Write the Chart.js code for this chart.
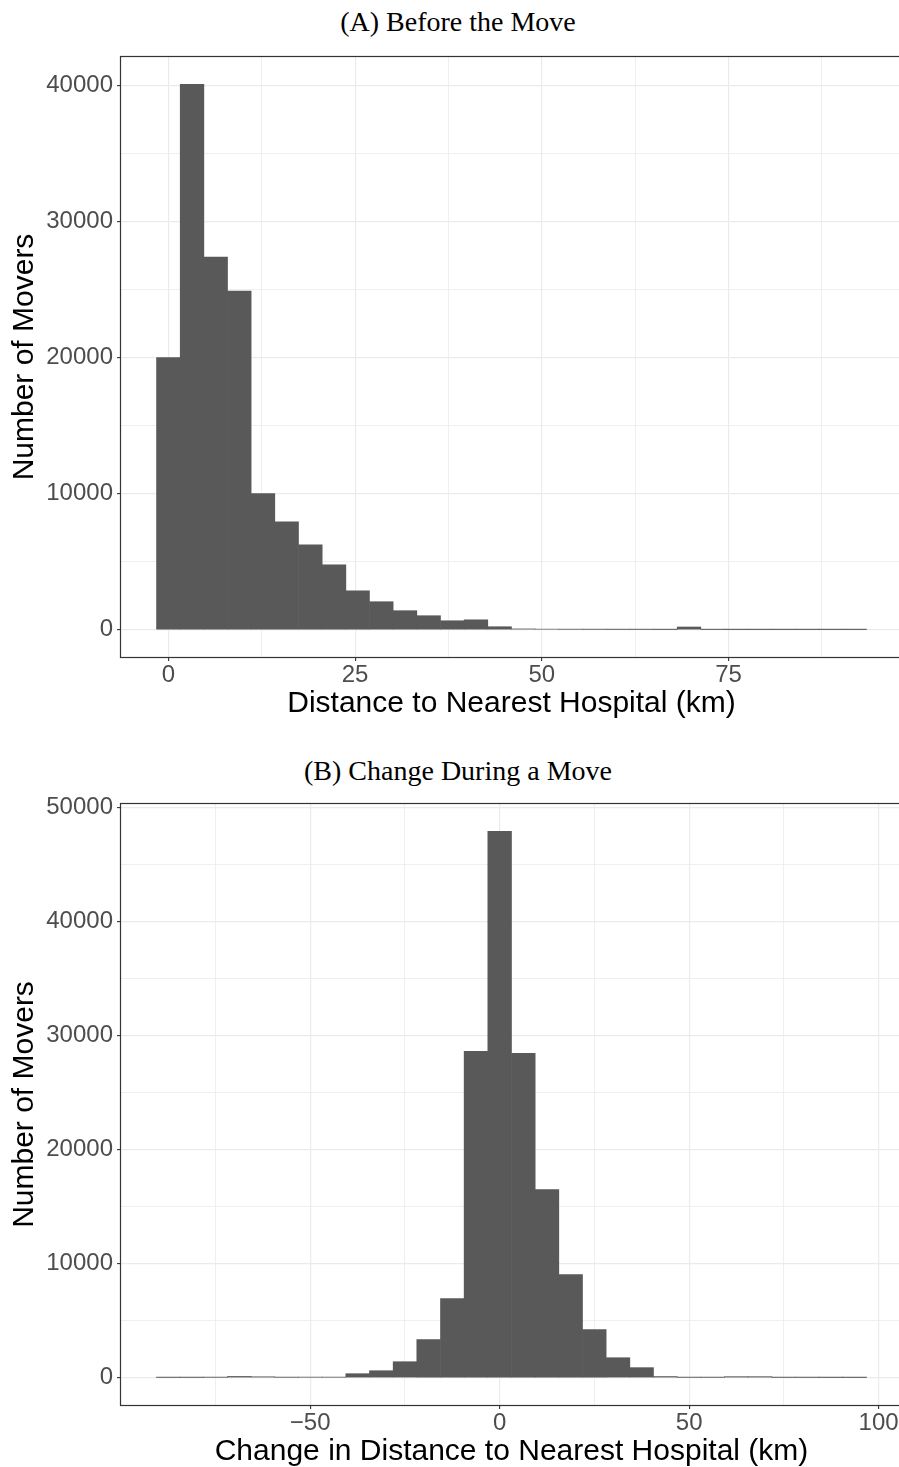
<!DOCTYPE html>
<html>
<head>
<meta charset="utf-8">
<title>Distance to Nearest Hospital</title>
<script src="https://cdn.jsdelivr.net/npm/chart.js@4.4.1/dist/chart.umd.min.js"></script>
<style>
    html, body { margin: 0; padding: 0; background: #ffffff; }
    body { width: 899px; height: 1467px; overflow: hidden; position: relative; }
    .panel-title {
        position: absolute; left: 0; width: 916px; text-align: center;
        font-family: 'Liberation Serif', 'DejaVu Serif', serif;
        font-size: 28px; line-height: 28px; color: #000;
    }
    .panel { position: absolute; left: 0; width: 902px; }
</style>
</head>
<body>
<div class="panel-title" style="top: 8px;">(A) Before the Move</div>
<div class="panel" style="top: 0; height: 730px;"><canvas id="chartA"></canvas></div>
<div class="panel-title" style="top: 757px;">(B) Change During a Move</div>
<div class="panel" style="top: 745px; height: 740px;"><canvas id="chartB"></canvas></div>

<script>
/* ------------------------------------------------------------
   Data (30 bins per histogram)
   ------------------------------------------------------------ */

// (A) distance before the move: bin centres (km) and counts
const binsBefore = [
    0, 3.17, 6.34, 9.50, 12.67, 15.84, 19.01, 22.18, 25.34, 28.51,
    31.68, 34.85, 38.02, 41.18, 44.35, 47.52, 50.69, 53.86, 57.02, 60.19,
    63.36, 66.53, 69.70, 72.86, 76.03, 79.20, 82.37, 85.54, 88.70, 91.87
];
const moversBefore = [
    20000, 40100, 27390, 24890, 10000, 7930, 6240, 4770, 2860, 2060,
    1400, 1030, 660, 730, 220, 60, 40, 30, 25, 20,
    20, 15, 200, 15, 10, 10, 10, 10, 10, 10
];

// (B) change during the move: bin centres (km) and counts
const binsChange = [
    -87.43, -81.19, -74.94, -68.70, -62.45, -56.21, -49.96, -43.72, -37.47, -31.23,
    -24.98, -18.74, -12.49, -6.25, 0, 6.25, 12.49, 18.74, 24.98, 31.23,
    37.47, 43.72, 49.96, 56.21, 62.45, 68.70, 74.94, 81.19, 87.43, 93.68
];
const moversChange = [
    20, 20, 30, 110, 80, 30, 40, 40, 350, 610,
    1400, 3330, 6930, 28600, 47890, 28420, 16490, 9030, 4210, 1750,
    880, 100, 25, 25, 90, 90, 20, 20, 15, 15
];

// axis breaks: major ones get a label, the rest are minor grid lines
const xBreaksBefore = [0, 12.5, 25, 37.5, 50, 62.5, 75, 87.5];
const xLabelsBefore = [0, 25, 50, 75];
const xBreaksChange = [-75, -50, -25, 0, 25, 50, 75, 100];
const xLabelsChange = [-50, 0, 50, 100];
const yBreaksBefore = [0, 5000, 10000, 15000, 20000, 25000, 30000, 35000, 40000];
const yLabelsBefore = [0, 10000, 20000, 30000, 40000];
const yBreaksChange = [0, 5000, 10000, 15000, 20000, 25000, 30000, 35000, 40000, 45000, 50000];
const yLabelsChange = [0, 10000, 20000, 30000, 40000, 50000];

/* ------------------------------------------------------------
   Theme (ggplot2 theme_bw look)
   ------------------------------------------------------------ */
const theme = {
    sans: "'Liberation Sans', Arial, sans-serif",
    barFill: '#595959',
    gridColor: '#EBEBEB',
    axisColor: '#333333',
    tickText: '#4D4D4D',
    titleText: '#000000'
};

/**
 * Draws the panel border (top, left, bottom; the right side is off-page)
 */
const panelBorder = {
    id: 'panelBorder',
    afterDatasetsDraw(chart) {
        const { ctx, chartArea: a } = chart;
        const l = Math.round(a.left) - 0.5;
        const t = Math.round(a.top) - 0.5;
        const b = Math.round(a.bottom) + 0.5;
        ctx.save();
        ctx.strokeStyle = theme.axisColor;
        ctx.lineWidth = 1.2;
        ctx.strokeRect(l, t, Math.round(a.right) - l, b - t);
        ctx.restore();
    }
};

function fmt(v) {
    return String(v).replace('-', '\u2212');
}

/**
 * Build a linear axis with fixed breaks and labelled majors
 */
function makeAxis(opts) {
    const { min, max, breaks, labels, title, titlePadding, fitSize, horizontal } = opts;
    return {
        type: 'linear',
        min,
        max,
        offset: false,
        afterBuildTicks: (scale) => {
            scale.ticks = breaks.map(v => ({ value: v }));
        },
        afterFit: (scale) => {
            if (horizontal) scale.height = fitSize;
            else scale.width = fitSize;
        },
        border: { display: false },
        grid: {
            offset: false,
            color: theme.gridColor,
            lineWidth: (c) => labels.includes(c.tick && c.tick.value) ? 1.2 : 0.8,
            tickLength: 4,
            tickWidth: 1.1,
            tickColor: (c) => labels.includes(c.tick && c.tick.value) ? theme.axisColor : 'rgba(0,0,0,0)'
        },
        ticks: {
            autoSkip: false,
            maxRotation: 0,
            padding: horizontal ? 0 : 4,
            color: theme.tickText,
            font: { family: theme.sans, size: 24 },
            callback: (v) => labels.includes(v) ? fmt(v) : ''
        },
        title: {
            display: true,
            text: title,
            color: theme.titleText,
            font: { family: theme.sans, size: 30 },
            padding: titlePadding
        }
    };
}

function makeHistogram(canvasId, bins, counts, x, y, topPad) {
    const ctx = document.getElementById(canvasId).getContext('2d');
    return new Chart(ctx, {
        type: 'bar',
        data: {
            datasets: [{
                data: bins.map((b, i) => ({ x: b, y: counts[i] })),
                backgroundColor: theme.barFill,
                borderWidth: 0,
                barPercentage: 1,
                categoryPercentage: 1
            }]
        },
        options: {
            responsive: true,
            maintainAspectRatio: false,
            animation: false,
            layout: { padding: { top: topPad, left: 0, right: 0, bottom: 0 } },
            plugins: {
                legend: { display: false },
                tooltip: { enabled: false }
            },
            scales: { x, y }
        },
        plugins: [panelBorder]
    });
}

// (A) Before the Move
makeHistogram('chartA', binsBefore, moversBefore,
    makeAxis({
        min: -6.34, max: 98.21, breaks: xBreaksBefore, labels: xLabelsBefore,
        title: 'Distance to Nearest Hospital (km)',
        titlePadding: { top: 0, bottom: 8 }, fitSize: 73, horizontal: true
    }),
    makeAxis({
        min: -2005, max: 42105, breaks: yBreaksBefore, labels: yLabelsBefore,
        title: 'Number of Movers',
        titlePadding: { top: 7, bottom: 0 }, fitSize: 121, horizontal: false
    }),
    57
);

// (B) Change During a Move
makeHistogram('chartB', binsChange, moversChange,
    makeAxis({
        min: -99.92, max: 106.17, breaks: xBreaksChange, labels: xLabelsChange,
        title: 'Change in Distance to Nearest Hospital (km)',
        titlePadding: { top: 0, bottom: 15 }, fitSize: 80, horizontal: true
    }),
    makeAxis({
        min: -2394, max: 50284, breaks: yBreaksChange, labels: yLabelsChange,
        title: 'Number of Movers',
        titlePadding: { top: 7, bottom: 0 }, fitSize: 121, horizontal: false
    }),
    59
);
</script>
</body>
</html>
